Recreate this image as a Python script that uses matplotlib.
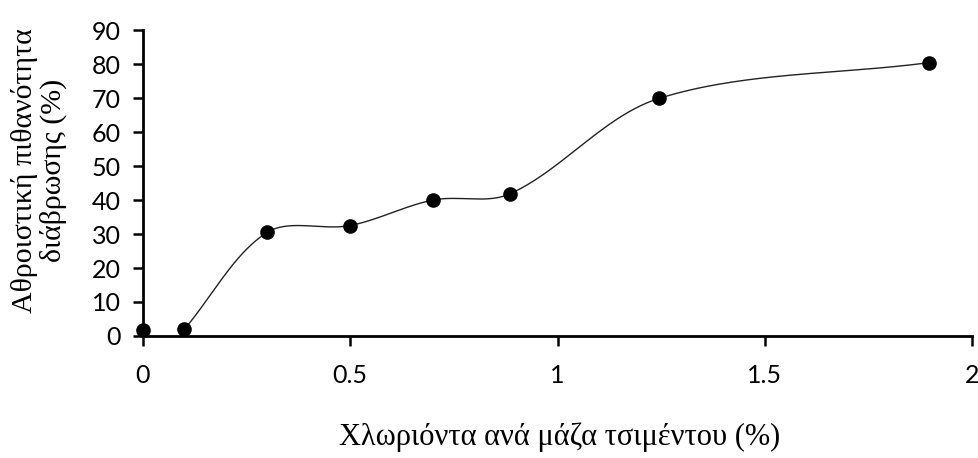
import numpy as np
import matplotlib
matplotlib.use("Agg")
import matplotlib.pyplot as plt

# Data
chloride = [0.0, 0.1, 0.3, 0.5, 0.7, 0.885, 1.245, 1.895]
probability = [1.8, 2.0, 30.5, 32.5, 40.0, 41.8, 69.9, 80.4]
x_ticks = [0, 0.5, 1, 1.5, 2]
x_tick_labels = ["0", "0.5", "1", "1.5", "2"]
y_ticks = [0, 10, 20, 30, 40, 50, 60, 70, 80, 90]
x_label = "Χλωριόντα ανά μάζα τσιμέντου (%)"
y_label = "Αθροιστική πιθανότητα\nδιάβρωσης (%)"


def smooth_curve(ax, xs, ys, n=80):
    """Excel-like smoothed line: Bezier segments in display space,
    tangent arms scaled by neighbouring chord lengths."""
    P = ax.transData.transform(np.column_stack([xs, ys]).astype(float))
    out = []
    m = len(P)
    for i in range(m - 1):
        p0 = P[i - 1] if i > 0 else P[i]
        p1 = P[i]
        p2 = P[i + 1]
        p3 = P[i + 2] if i + 2 < m else P[i + 1]
        d01 = np.linalg.norm(p1 - p0)
        d12 = np.linalg.norm(p2 - p1)
        d23 = np.linalg.norm(p3 - p2)
        f1 = d12 / (d01 + d12) if d01 + d12 > 0 else 0
        f2 = d12 / (d12 + d23) if d12 + d23 > 0 else 0
        c1 = p1 + (p2 - p0) * f1 / 3.0
        c2 = p2 - (p3 - p1) * f2 / 3.0
        t = np.linspace(0, 1, n)[:, None]
        seg = ((1 - t) ** 3) * p1 + 3 * ((1 - t) ** 2) * t * c1 + 3 * (1 - t) * t ** 2 * c2 + t ** 3 * p2
        out.append(seg if i == 0 else seg[1:])
    s = ax.transData.inverted().transform(np.vstack(out))
    return s[:, 0], s[:, 1]


fig = plt.figure(figsize=(9.79, 4.58), dpi=100)
ax = fig.add_axes([0.146, 0.2664, 0.847, 0.668])
ax.set_xlim(0, 2)
ax.set_ylim(0, 90)

# smoothed line runs from the second point onwards (as in the reference)
sx, sy = smooth_curve(ax, chloride[1:], probability[1:])
ax.plot(sx, sy, color="#222222", lw=1.0, clip_on=False, zorder=2)
ax.plot(chloride, probability, "o", color="black", ms=9.5, clip_on=False, zorder=3)

ax.set_xticks(x_ticks)
ax.set_xticklabels(x_tick_labels)
ax.set_yticks(y_ticks)

for side in ["top", "right"]:
    ax.spines[side].set_visible(False)
for side in ["left", "bottom"]:
    ax.spines[side].set_linewidth(2.0)

ax.tick_params(axis="both", direction="out", length=7, width=1.8, colors="black")
ax.tick_params(axis="y", pad=9)
ax.tick_params(axis="x", pad=13)
for lab in ax.get_xticklabels() + ax.get_yticklabels():
    lab.set_fontfamily(["Lato", "DejaVu Sans"])
    lab.set_fontsize(18)

fig.text(0.572, 0.046, x_label, ha="center", va="center",
         family=["Liberation Serif", "DejaVu Serif"], fontsize=22)
fig.text(0.040, 0.627, y_label, ha="center", va="center", rotation=90,
         multialignment="center", linespacing=1.1,
         family=["Liberation Serif", "DejaVu Serif"], fontsize=21.5)

fig.savefig("out.png", dpi=100)
